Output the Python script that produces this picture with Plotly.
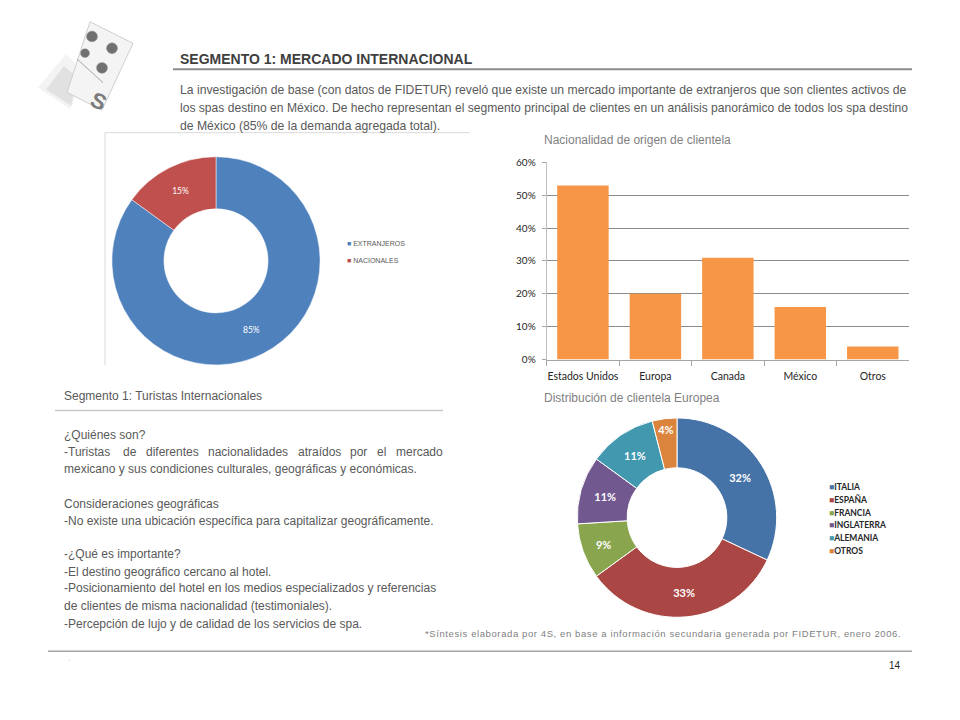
import plotly.graph_objects as go

# ---------------- data ----------------
demand_labels = ["EXTRANJEROS", "NACIONALES"]
demand_values = [85, 15]
demand_colors = ["#4F81BD", "#C0504D"]

origin_categories = ["Estados Unidos", "Europa", "Canada", "México", "Otros"]
origin_values = [0.53, 0.20, 0.31, 0.16, 0.04]
origin_ticks = [0, 0.1, 0.2, 0.3, 0.4, 0.5, 0.6]

europe_labels = ["ITALIA", "ESPAÑA", "FRANCIA", "INGLATERRA", "ALEMANIA", "OTROS"]
europe_values = [32, 33, 9, 11, 11, 4]
europe_colors = ["#4572A7", "#AA4643", "#89A54E", "#71588F", "#4198AF", "#DB843D"]

W, H = 960, 720
def X(px):
    return px / W
def Y(py):
    return 1 - py / H

NARROW = "Liberation Sans Narrow, Arial Narrow, Liberation Sans, Arial, sans-serif"
SANS = "Liberation Sans, Arial, sans-serif"
CAL = "Lato, Carlito, Calibri, sans-serif"
GRAY = "#595959"

fig = go.Figure()

# ---------------- donut 1 ----------------
c1x, c1y, r1 = 216, 258.5, 106
fig.add_trace(go.Pie(
    labels=demand_labels, values=demand_values, hole=0.5, sort=False,
    direction="clockwise", rotation=0,
    marker=dict(colors=demand_colors, line=dict(color="white", width=0.5)),
    texttemplate="%{value}%", textposition="inside", insidetextorientation="horizontal",
    textfont=dict(color="white", size=8.5, family=CAL),
    domain=dict(x=[X(c1x - r1), X(c1x + r1)], y=[Y(c1y + r1), Y(c1y - r1)]),
    showlegend=False, hoverinfo="label+percent",
))

# ---------------- bar chart ----------------
fig.add_trace(go.Bar(
    x=origin_categories, y=origin_values, marker=dict(color="#F79646", line=dict(width=0)),
    width=0.71, showlegend=False, xaxis="x", yaxis="y",
))

# ---------------- donut 2 ----------------
c2x, c2y, r2 = 677, 520, 101.5
fig.add_trace(go.Pie(
    labels=europe_labels, values=europe_values, hole=0.5, sort=False,
    direction="clockwise", rotation=0,
    marker=dict(colors=europe_colors, line=dict(color="white", width=1)),
    texttemplate="<b>%{value}%</b>", textposition="inside", insidetextorientation="horizontal",
    textfont=dict(color="white", size=11, family=CAL),
    domain=dict(x=[X(c2x - r2), X(c2x + r2)], y=[Y(c2y + r2), Y(c2y - r2)]),
    showlegend=False, hoverinfo="label+percent",
))

fig.update_layout(
    width=W, height=H, margin=dict(l=0, r=0, t=0, b=0),
    paper_bgcolor="white", plot_bgcolor="white",
    xaxis=dict(domain=[X(546.7), X(909)], showline=True, linecolor="#A6A6A6", linewidth=1,
               ticks="outside", ticklen=5, tickcolor="#A6A6A6", tickson="boundaries",
               tickangle=0, ticklabelstandoff=7,
               tickfont=dict(family=CAL, size=10.5, color="#262626"), showgrid=False,
               fixedrange=True, anchor="y"),
    yaxis=dict(domain=[Y(359), Y(158.3)], range=[0, 0.6], tickvals=origin_ticks,
               tickformat=".0%", showline=True, linecolor="#BFBFBF", linewidth=1,
               ticks="outside", ticklen=4, tickcolor="#A6A6A6",
               showgrid=True, gridcolor="#8C8C8C", gridwidth=1, zeroline=False,
               tickfont=dict(family=CAL, size=10, color="#262626"), ticklabelstandoff=4,
               fixedrange=True, anchor="x"),
    bargap=0.29,
)

shapes = []
annotations = []

def text(px, py, s, size=12, color=GRAY, family=NARROW, anchor="left", bold=False):
    if bold:
        s = "<b>" + s + "</b>"
    annotations.append(dict(x=X(px), y=Y(py), xref="paper", yref="paper", text=s,
                            showarrow=False, xanchor=anchor, yanchor="middle",
                            font=dict(size=size, color=color, family=family)))

def line(x0, y0, x1, y1, color, width):
    shapes.append(dict(type="line", xref="paper", yref="paper", x0=X(x0), y0=Y(y0),
                       x1=X(x1), y1=Y(y1), line=dict(color=color, width=width)))

def path(points, fill, linecolor="rgba(0,0,0,0)", width=0):
    d = "M " + " L ".join(f"{X(a)},{Y(b)}" for a, b in points) + " Z"
    shapes.append(dict(type="path", xref="paper", yref="paper", path=d, fillcolor=fill,
                       line=dict(color=linecolor, width=width), layer="above"))

def circle(cx, cy, r, fill):
    shapes.append(dict(type="circle", xref="paper", yref="paper", x0=X(cx - r), x1=X(cx + r),
                       y0=Y(cy + r), y1=Y(cy - r), fillcolor=fill,
                       line=dict(color="#9A9A9A", width=0.5), layer="above"))

# ---------------- domino icon ----------------
path([(66, 48), (38, 82), (70, 104), (80, 62)], "rgba(160,160,160,0.12)")
path([(64, 60), (46, 84), (72, 101), (78, 72)], "rgba(130,130,130,0.15)")
path([(90, 15), (133, 37), (102, 105), (67, 87)], "#F4F4F4", "#CFCFCF", 1)
line(77, 53, 103, 77, "#A8A8A8", 1)
circle(92, 30, 5.5, "#707070")
circle(112, 42, 5.5, "#707070")
circle(85, 47, 4.5, "#707070")
circle(102, 62, 5.5, "#707070")
annotations.append(dict(x=X(84), y=Y(79), xref="paper", yref="paper", text="<b>S</b>",
                        showarrow=False, textangle=25,
                        font=dict(size=22, color="#7A7A7A", family=SANS)))

# ---------------- header ----------------
text(178, 53, "SEGMENTO 1: MERCADO INTERNACIONAL", size=14, color="#404040", family=SANS, bold=True)
line(173, 63.5, 912, 63.5, "#8C8C8C", 2)
text(178, 85, "La investigación de base (con datos de FIDETUR) reveló que existe un mercado importante de extranjeros que son clientes activos de", size=12.2)
text(178, 103, "los spas destino en México. De hecho representan el segmento principal de clientes en un análisis panorámico de todos los spa destino", size=12.1)
text(178, 121, "de México (85% de la demanda agregada total).", size=12.2)

# frame of donut 1
line(105, 128, 470, 128, "#D9D9D9", 1)
line(105, 128, 105, 365, "#D9D9D9", 1)

# legend donut 1
for i, (lab, col) in enumerate(zip(demand_labels, demand_colors)):
    yy = 241 + 17 * i
    text(345, yy, f'<span style="color:{col}">■</span> {lab}', size=7, color="#595959", family=SANS)

# chart titles
text(542, 135, "Nacionalidad de origen de clientela", size=12, color="#7F7F7F")
text(542, 398, "Distribución de clientela Europea", size=12, color="#7F7F7F")

# legend donut 2
for i, (lab, col) in enumerate(zip(europe_labels, europe_colors)):
    yy = 489 + 13 * i
    text(827, yy, f'<span style="color:{col}">■</span><b>{lab}</b>', size=8.5, color="#262626", family=CAL)

# ---------------- left column ----------------
text(62, 396, "Segmento 1: Turistas Internacionales", size=12, color="#595959")
line(55, 411, 443, 411, "#C8C8C8", 1.5)

text(62, 436, "¿Quiénes son?")
# justified line: words spread between x=62 and x=441
turistas_words = ["-Turistas", "de", "diferentes", "nacionalidades", "atraídos", "por", "el", "mercado"]
turistas_x = [62, 120.5, 143.5, 206, 295.7, 348.2, 375.2, 394.3]
for w_, x_ in zip(turistas_words, turistas_x):
    text(x_, 453, w_)
text(62, 471, "mexicano y sus condiciones culturales, geográficas y económicas.")
text(62, 506, "Consideraciones geográficas")
text(62, 523, "-No existe una ubicación específica para capitalizar geográficamente.")
text(62, 557, "-¿Qué es importante?")
text(62, 575, "-El destino geográfico cercano al hotel.")
text(62, 592, "-Posicionamiento del hotel en los medios especializados y referencias")
text(62, 610, "de clientes de misma nacionalidad (testimoniales).")
text(62, 628, "-Percepción de lujo y de calidad de los servicios de spa.")

# ---------------- footer ----------------
text(903, 638, '<span style="letter-spacing:0.6px">*Síntesis elaborada por 4S, en base a información secundaria generada por FIDETUR, enero 2006.</span>',
     size=9.5, color="#7F7F7F", family=SANS, anchor="right")
line(48, 656, 912, 656, "#A6A6A6", 1.5)
text(903, 671, "14", size=10, color="#262626", family=SANS, anchor="right")
text(66, 666, "·", size=8, color="#BFBFBF", family=SANS)

fig.update_layout(shapes=shapes, annotations=annotations)
fig.write_html("out.html", config={"displayModeBar": False},
               post_script="document.body.style.margin='0';document.body.style.overflow='hidden';")
